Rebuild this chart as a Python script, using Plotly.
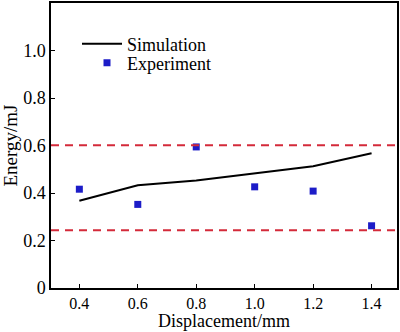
import plotly.graph_objects as go

displacement = [0.4, 0.6, 0.8, 1.0, 1.2, 1.4]
simulation = [0.367, 0.433, 0.453, 0.482, 0.513, 0.567]
experiment = [0.416, 0.352, 0.594, 0.426, 0.408, 0.262]
limits = [0.601, 0.243]

x_ticks = [0.4, 0.6, 0.8, 1.0, 1.2, 1.4]
x_ticktext = ["0.4", "0.6", "0.8", "1.0", "1.2", "1.4"]
y_ticks = [0, 0.2, 0.4, 0.6, 0.8, 1.0, 1.2]
y_ticktext = ["0", "0.2", "0.4", "0.6", "0.8", "1.0", "1.2"]

FONT = "Liberation Serif, Times New Roman, serif"

fig = go.Figure()
fig.add_trace(go.Scatter(x=displacement, y=simulation, mode="lines", name="Simulation",
                         line=dict(color="black", width=2), legend="legend"))
fig.add_trace(go.Scatter(x=displacement, y=experiment, mode="markers", name="Experiment",
                         marker=dict(symbol="square", size=7, color="#1c1cc8"), legend="legend2"))

for v in limits:
    fig.add_shape(type="line", xref="paper", yref="y", x0=0, x1=1, y0=v, y1=v,
                  line=dict(color="#d42a3a", width=2, dash="8px,6px"))

PW, PH = 346, 285
fig.add_annotation(text="Displacement/mm", xref="paper", yref="paper",
                   x=0.5, y=-(332 - 288) / PH, xanchor="center", yanchor="bottom",
                   showarrow=False, font=dict(size=18), borderpad=0)

fig.update_layout(
    width=400, height=332,
    margin=dict(l=51, r=3, t=3, b=44),
    paper_bgcolor="white", plot_bgcolor="white",
    font=dict(family=FONT, size=16, color="black"),
    showlegend=True,
    legend=dict(x=(77 - 51) / PW, y=1 - (44 - 3) / PH, xanchor="left", yanchor="middle",
                bgcolor="rgba(0,0,0,0)", font=dict(size=18), itemwidth=40),
    legend2=dict(x=(87 - 51) / PW, y=1 - (63 - 3) / PH, xanchor="left", yanchor="middle",
                 bgcolor="rgba(0,0,0,0)", font=dict(size=18), itemwidth=30),
    xaxis=dict(range=[0.303, 1.487], tickvals=x_ticks, ticktext=x_ticktext,
               ticks="inside", ticklen=4, tickcolor="black", showgrid=False, zeroline=False,
               showline=True, linecolor="black", linewidth=1.5, mirror=True,
               tickfont=dict(size=16), automargin=False, ticklabelstandoff=0),
    yaxis=dict(range=[0, 1.2], tickvals=y_ticks, ticktext=y_ticktext,
               ticks="inside", ticklen=4, tickcolor="black", showgrid=False, zeroline=False,
               showline=True, linecolor="black", linewidth=1.5, mirror=True,
               tickfont=dict(size=18), automargin=False,
               title=dict(text="Energy/mJ", standoff=4, font=dict(size=19))),
)

fig.write_html("out.html")
